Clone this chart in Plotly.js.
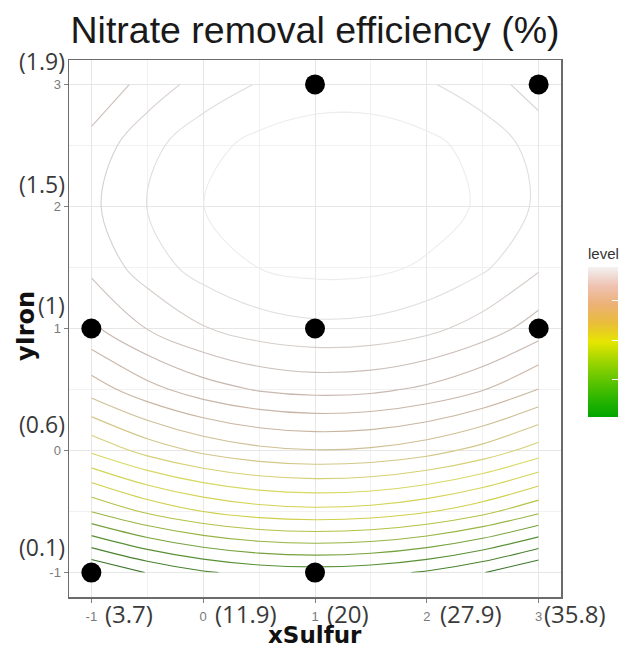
<!DOCTYPE html>
<html>
<head>
<meta charset="utf-8">
<script src="https://cdn.plot.ly/plotly-3.0.1.min.js"></script>
<style>html,body{margin:0;padding:0;background:#fff;}#chart{width:627px;height:650px;}</style>
</head>
<body>
<div id="chart"></div>
<script>
// ---- data ----
const gridX = [-1, -0.5, 0, 0.5, 1, 1.5, 2, 2.5, 3];
const gridY = [-1, -0.5, 0, 0.5, 1, 1.5, 2, 2.5, 3];
// estimated removal efficiency (%) surface, rows = gridY, cols = gridX
const efficiency = [
  [17.66, 22.21, 25.46, 27.41, 28.06, 27.41, 25.46, 22.21, 17.66],
  [38.03, 42.67, 46.00, 48.04, 48.78, 48.21, 46.35, 43.19, 38.73],
  [54.74, 59.46, 62.89, 65.01, 65.84, 65.36, 63.59, 60.51, 56.14],
  [67.80, 72.61, 76.13, 78.34, 79.25, 78.87, 77.18, 74.20, 69.91],
  [77.21, 82.12, 85.72, 88.02, 89.02, 88.73, 87.13, 84.23, 80.03],
  [82.98, 87.97, 91.66, 94.06, 95.15, 94.94, 93.43, 90.62, 86.51],
  [85.11, 90.19, 93.96, 96.44, 97.62, 97.50, 96.08, 93.36, 89.34],
  [83.59, 88.76, 92.63, 95.20, 96.46, 96.43, 95.10, 92.47, 88.53],
  [78.42, 83.68, 87.64, 90.29, 91.65, 91.70, 90.46, 87.92, 84.07]
];
const levelStart = 22, levelEnd = 94, levelStep = 4;
const colorMin = 21, colorMax = 97;
const colorTicks = [40, 60, 80];

const designX = [1, 3, -1, 1, 3, -1, 1];
const designY = [3, 3, 1, 1, 1, -1, -1];

const axisTicks = [-1, 0, 1, 2, 3];
const axisTickText = ['-1', '0', '1', '2', '3'];
const xRealLabels = ['(3.7)', '(11.9)', '(20)', '(27.9)', '(35.8)'];
const yRealLabels = ['(0.1)', '(0.6)', '(1)', '(1.5)', '(1.9)'];

const titleText = 'Nitrate removal efficiency (%)';
const xTitle = 'xSulfur';
const yTitle = 'yIron';
const legendTitle = 'level';

// ---- styles ----
const terrainScale = [
  [0, '#00A600'], [0.125, '#2DB600'], [0.25, '#63C600'], [0.375, '#A0D600'],
  [0.5, '#E6E600'], [0.625, '#E9BD3A'], [0.75, '#ECB176'], [0.875, '#EFC2B3'], [1, '#F2F2F2']
];
const lineScale = [
  [0, '#3a7528'], [0.12, '#5a9236'], [0.22, '#96b444'], [0.33, '#cfcf48'],
  [0.45, '#d8d864'], [0.55, '#d4c888'], [0.68, '#c8b4a4'], [0.82, '#c8bab4'],
  [0.92, '#dcd8d6'], [1, '#ececec']
];
const xLabelShift = [12, 10, 10, 11, 3];
const yLabelShift = [26, 27, 24, 22, 23];
const xLabelFont = {family: 'Open Sans, Noto Sans, sans-serif', size: 24, color: '#3a3a3a'};
const yLabelFont = {family: 'Open Sans, Noto Sans, sans-serif', size: 23, color: '#3a3a3a'};

const traces = [
  {
    type: 'heatmap', x: gridX, y: gridY, z: efficiency,
    colorscale: terrainScale, zmin: colorMin, zmax: colorMax, zauto: false,
    opacity: 0, hoverinfo: 'skip', showscale: true,
    colorbar: {
      x: 1.0549, xanchor: 'left', xpad: 0, ypad: 0,
      y: 0.3352, yanchor: 'bottom', len: 172, lenmode: 'pixels', thickness: 30,
      outlinewidth: 0, ticks: 'inside', ticklen: 6, tickwidth: 1, tickcolor: '#ffffff',
      tickvals: colorTicks, showticklabels: false,
      title: {text: legendTitle, side: 'top', font: {family: 'Liberation Sans, Arial, sans-serif', size: 15, color: '#333'}}
    }
  },
  {
    type: 'contour', x: gridX, y: gridY, z: efficiency,
    contours: {coloring: 'lines', start: levelStart, end: levelEnd, size: levelStep},
    colorscale: lineScale, zmin: colorMin, zmax: colorMax, zauto: false,
    line: {width: 1.1, smoothing: 1},
    showscale: false, hoverinfo: 'skip'
  },
  {
    type: 'scatter', mode: 'markers', x: designX, y: designY,
    marker: {size: 20, color: '#000'}, hoverinfo: 'x+y', showlegend: false
  }
];

const annotations = [];
xRealLabels.forEach((t, i) => annotations.push({
  xref: 'x', yref: 'paper', x: axisTicks[i], y: -0.0298, xanchor: 'left', yanchor: 'middle',
  xshift: xLabelShift[i], text: t, showarrow: false, font: xLabelFont
}));
yRealLabels.forEach((t, i) => annotations.push({
  xref: 'paper', yref: 'y', x: -0.004, y: axisTicks[i], xanchor: 'right', yanchor: 'middle',
  yshift: yLabelShift[i], text: t, showarrow: false, font: yLabelFont
}));
annotations.push({
  xref: 'paper', yref: 'paper', x: 0.5, y: -0.071, xanchor: 'center', yanchor: 'middle',
  text: xTitle, showarrow: false,
  font: {family: 'DejaVu Sans, sans-serif', size: 23, color: '#111', weight: 'bold'}
});
annotations.push({
  xref: 'paper', yref: 'paper', x: -0.0875, y: 0.5047, xanchor: 'center', yanchor: 'middle',
  text: yTitle, textangle: -90, showarrow: false,
  font: {family: 'DejaVu Sans, sans-serif', size: 24, color: '#111', weight: 'bold'}
});

const axisCommon = {
  range: [-1.2, 3.2], tickvals: axisTicks, ticktext: axisTickText,
  ticks: 'outside', ticklen: 4, tickwidth: 1, tickcolor: '#7f7f7f',
  tickfont: {family: 'Liberation Sans, Arial, sans-serif', size: 13, color: '#7a7a7a'},
  showgrid: true, gridcolor: '#e6e6e6', gridwidth: 1,
  minor: {tick0: 0.5, dtick: 1, showgrid: true, gridcolor: '#eeeeee', gridwidth: 0.8, ticks: ''},
  zeroline: false, showline: true, mirror: true, linecolor: '#6b6b6b', linewidth: 1.5,
  fixedrange: true
};

const layout = {
  width: 627, height: 650,
  margin: {l: 69, r: 66, t: 60, b: 53, autoexpand: false},
  paper_bgcolor: '#fff', plot_bgcolor: '#fff',
  title: {text: titleText, x: 0.5, xref: 'paper', xanchor: 'center', y: 0.9538, yanchor: 'middle',
          font: {family: 'Liberation Sans, Arial, sans-serif', size: 37.5, color: '#1a1a1a'}},
  xaxis: Object.assign({}, axisCommon, {ticklabelstandoff: 3}),
  yaxis: Object.assign({}, axisCommon),
  showlegend: false,
  annotations: annotations
};

Plotly.newPlot('chart', traces, layout, {displayModeBar: false, staticPlot: true});
</script>
</body>
</html>
